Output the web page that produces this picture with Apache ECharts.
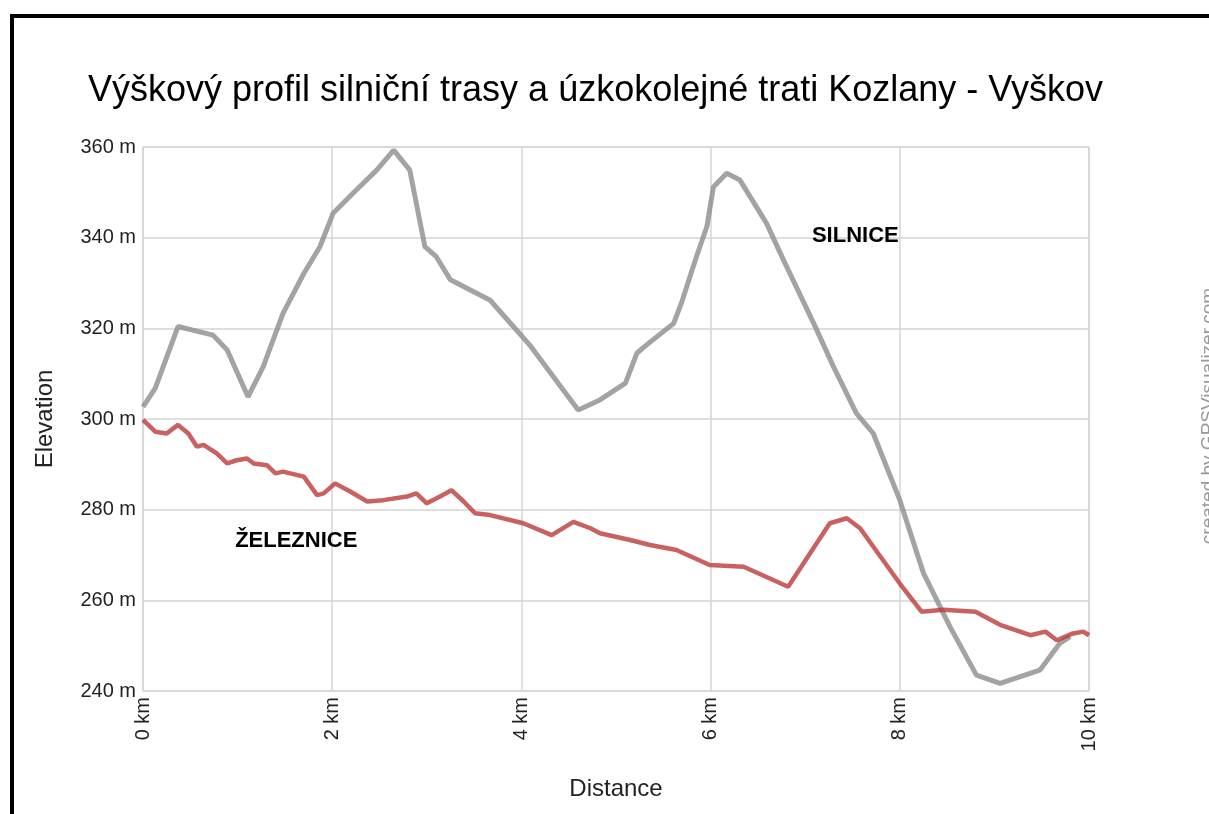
<!DOCTYPE html>
<html>
<head>
<meta charset="utf-8">
<script src="https://cdn.jsdelivr.net/npm/echarts@6/dist/echarts.min.js"></script>
<style>
    html, body { margin: 0; padding: 0; background: #fff; }
    #chart { width: 1209px; height: 814px; }
</style>
</head>
<body>
<div id="chart"></div>
<script>
    // silnice (road) profile, km / m
    const roadKm = [0, 0.13, 0.37, 0.74, 0.89, 1.11, 1.27, 1.48, 1.70, 1.87, 2.01, 2.22, 2.47, 2.65, 2.82, 2.98, 3.10, 3.25,
        3.67, 4.10, 4.60, 4.83, 5.10, 5.22, 5.32, 5.61, 5.69, 5.85, 5.96, 6.03, 6.17, 6.31, 6.59, 6.77, 7.09, 7.30, 7.54,
        7.72, 8.00, 8.25, 8.53, 8.81, 9.06, 9.48, 9.69, 9.80];
    const roadElev = [302.7, 306.8, 320.4, 318.5, 315.2, 304.9, 311.5, 323.3, 332.1, 338, 345.4, 349.8, 354.9, 359.3, 354.9, 338, 335.8, 330.7,
        326.2, 316, 302, 304.2, 307.9, 314.5, 316.3, 321.1, 325.5, 335.8, 342.4, 351.2, 354.2, 352.7, 343.2, 335.1, 321.1, 311.5, 301.3,
        296.8, 282.1, 266, 254.2, 243.5, 241.7, 244.6, 250.5, 252];

    // železnice (narrow gauge railway) profile, km / m
    const railKm = [0, 0.13, 0.25, 0.37, 0.48, 0.57, 0.64, 0.78, 0.89, 0.99, 1.10, 1.17, 1.31, 1.40, 1.48, 1.70, 1.84, 1.91,
        2.03, 2.19, 2.37, 2.54, 2.79, 2.89, 3.00, 3.14, 3.26, 3.39, 3.51, 3.67, 4.02, 4.32, 4.55, 4.73, 4.83, 5.15, 5.36,
        5.64, 5.99, 6.35, 6.82, 7.26, 7.44, 7.58, 8.00, 8.23, 8.46, 8.80, 9.06, 9.38, 9.54, 9.66, 9.83, 9.94, 10.0];
    const railElev = [299.8, 297.2, 296.8, 298.7, 296.8, 293.9, 294.3, 292.4, 290.2, 290.9, 291.3, 290.2, 289.8, 288, 288.4, 287.3, 283.2, 283.6,
        285.8, 284, 281.8, 282.1, 282.9, 283.6, 281.4, 282.9, 284.3, 281.8, 279.2, 278.8, 277, 274.4, 277.3, 275.9, 274.8, 273.3, 272.2,
        271.1, 267.8, 267.4, 263, 277, 278.1, 275.9, 263.7, 257.5, 257.9, 257.5, 254.6, 252.3, 253.1, 251.2, 252.7, 253.1, 252.3];

    const elevTicks = [240, 260, 280, 300, 320, 340, 360];
    const kmTicks = [0, 2, 4, 6, 8, 10];

    const zip = (xs, ys) => xs.map((x, i) => [x, ys[i]]);

    const chart = echarts.init(document.getElementById('chart'));
    chart.setOption({
        animation: false,
        textStyle: {fontFamily: 'Liberation Sans, Arial, sans-serif'},
        title: {
            text: 'Výškový profil silniční trasy a úzkokolejné trati Kozlany - Vyškov',
            left: 83,
            top: 68,
            textStyle: {fontSize: 36, fontWeight: 'normal', color: '#000'}
        },
        grid: {
            left: 143,
            right: 120,
            top: 147,
            bottom: 123,
            show: true,
            borderColor: '#d4d4d4',
            borderWidth: 1
        },
        xAxis: {
            type: 'value',
            min: kmTicks[0],
            max: kmTicks[kmTicks.length - 1],
            interval: 2,
            name: 'Distance',
            nameLocation: 'middle',
            nameGap: 86,
            nameTextStyle: {fontSize: 24, color: '#222'},
            axisLine: {show: false},
            axisTick: {show: false},
            axisLabel: {
                rotate: 90,
                margin: 6,
                fontSize: 20,
                color: '#222',
                formatter: '{value} km'
            },
            splitLine: {lineStyle: {color: '#d4d4d4', width: 1.5}}
        },
        yAxis: {
            type: 'value',
            min: elevTicks[0],
            max: elevTicks[elevTicks.length - 1],
            interval: 20,
            name: 'Elevation',
            nameLocation: 'middle',
            nameRotate: 90,
            nameGap: 86,
            nameTextStyle: {fontSize: 24, color: '#222'},
            axisLine: {show: false},
            axisTick: {show: false},
            axisLabel: {
                margin: 7,
                fontSize: 20,
                color: '#222',
                formatter: '{value} m'
            },
            splitLine: {lineStyle: {color: '#d4d4d4', width: 1.5}}
        },
        series: [{
            name: 'silnice',
            type: 'line',
            data: zip(roadKm, roadElev),
            showSymbol: false,
            lineStyle: {color: '#8c8c8c', width: 5, opacity: 0.8},
            markPoint: {
                symbolSize: 0,
                label: {
                    show: true,
                    formatter: 'SILNICE',
                    fontSize: 22,
                    fontWeight: 'bold',
                    color: '#000'
                },
                data: [{coord: [7.53, 340.4]}]
            }
        }, {
            name: 'železnice',
            type: 'line',
            data: zip(railKm, railElev),
            showSymbol: false,
            lineStyle: {color: '#bb3a3a', width: 4.5, opacity: 0.8},
            markPoint: {
                symbolSize: 0,
                label: {
                    show: true,
                    formatter: 'ŽELEZNICE',
                    fontSize: 22,
                    fontWeight: 'bold',
                    color: '#000'
                },
                data: [{coord: [1.62, 273.1]}]
            }
        }],
        graphic: [
            {type: 'rect', left: 10, top: 14, shape: {width: 1199, height: 4}, style: {fill: '#000'}},
            {type: 'rect', left: 10, top: 14, shape: {width: 4, height: 800}, style: {fill: '#000'}},
            {
                type: 'text',
                x: 1209,
                y: 416,
                rotation: Math.PI / 2,
                style: {
                    text: 'created by GPSVisualizer.com',
                    fontSize: 19,
                    fontFamily: 'Liberation Sans, Arial, sans-serif',
                    fill: '#999',
                    align: 'center',
                    verticalAlign: 'middle'
                }
            }
        ]
    });
</script>
</body>
</html>
